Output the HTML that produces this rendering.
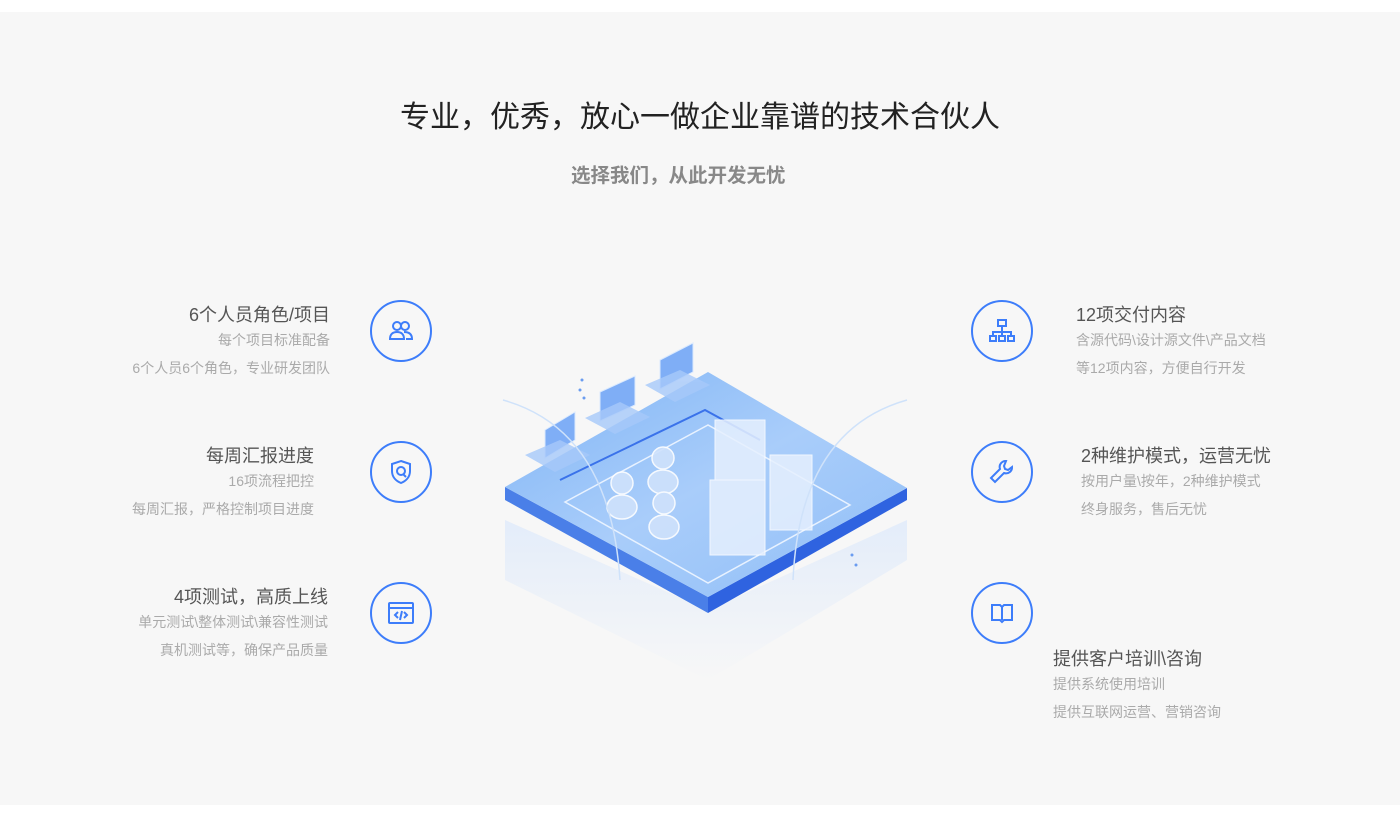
<!DOCTYPE html>
<html><head><meta charset="utf-8"><style>
*{margin:0;padding:0;box-sizing:border-box}
body{width:1400px;height:840px;background:#fff;font-family:"Liberation Sans","Noto Sans CJK SC",sans-serif;position:relative;overflow:hidden}
.bg{position:absolute;left:0;top:12px;width:1400px;height:793px;background:#f7f7f7}
.t{position:absolute;white-space:nowrap}
.h1{left:0;width:1400px;text-align:center;top:92px;font-size:30px;color:#222}
.h2{left:571px;top:159px;font-size:19.5px;color:#888;font-weight:bold}
.hd{font-size:18px;color:#555}
.sb{font-size:14px;color:#aaa}
.r{text-align:right}
.c{position:absolute;width:62px;height:62px;border:2px solid #3d7dfa;border-radius:50%}
.c svg{position:absolute;left:14px;top:14px}
</style></head><body>
<div class="bg"></div>
<div class="t h1">专业，优秀，放心一做企业靠谱的技术合伙人</div>
<div class="t h2">选择我们，从此开发无忧</div>

<div class="t hd r" style="right:1070px;top:301px">6个人员角色/项目</div>
<div class="t sb r" style="right:1070px;top:330px">每个项目标准配备</div>
<div class="t sb r" style="right:1070px;top:358px">6个人员6个角色，专业研发团队</div>

<div class="t hd r" style="right:1086px;top:442px">每周汇报进度</div>
<div class="t sb r" style="right:1086px;top:471px">16项流程把控</div>
<div class="t sb r" style="right:1086px;top:499px">每周汇报，严格控制项目进度</div>

<div class="t hd r" style="right:1072px;top:583px">4项测试，高质上线</div>
<div class="t sb r" style="right:1072px;top:612px">单元测试\整体测试\兼容性测试</div>
<div class="t sb r" style="right:1072px;top:640px">真机测试等，确保产品质量</div>

<div class="t hd" style="left:1076px;top:301px">12项交付内容</div>
<div class="t sb" style="left:1076px;top:330px">含源代码\设计源文件\产品文档</div>
<div class="t sb" style="left:1076px;top:358px">等12项内容，方便自行开发</div>

<div class="t hd" style="left:1081px;top:442px">2种维护模式，运营无忧</div>
<div class="t sb" style="left:1081px;top:471px">按用户量\按年，2种维护模式</div>
<div class="t sb" style="left:1081px;top:499px">终身服务，售后无忧</div>

<div class="t hd" style="left:1053px;top:645px">提供客户培训\咨询</div>
<div class="t sb" style="left:1053px;top:674px">提供系统使用培训</div>
<div class="t sb" style="left:1053px;top:702px">提供互联网运营、营销咨询</div>

<div class="c" style="left:370px;top:300px"><svg width="30" height="30" viewBox="0 0 30 30" fill="none" stroke="#3d7dfa" stroke-width="2"><circle cx="11" cy="10" r="4"/><circle cx="19" cy="10" r="4"/><path d="M4 23c0-5 3-7 7-7s7 2 7 7zM18 16c5 0 8 2 8 7h-6"/></svg></div>
<div class="c" style="left:370px;top:441px"><svg width="30" height="30" viewBox="0 0 30 30" fill="none" stroke="#3d7dfa" stroke-width="2"><path d="M15 4l9 3v7c0 6-4 10-9 12-5-2-9-6-9-12V7z"/><circle cx="15" cy="14" r="4"/><path d="M17 17l3 3"/></svg></div>
<div class="c" style="left:370px;top:582px"><svg width="30" height="30" viewBox="0 0 30 30" fill="none" stroke="#3d7dfa" stroke-width="2"><rect x="3" y="5" width="24" height="20" rx="1"/><path d="M3 10h24M12 14l-3 3 3 3M18 14l3 3-3 3M16 13l-2 9"/></svg></div>
<div class="c" style="left:971px;top:300px"><svg width="30" height="30" viewBox="0 0 30 30" fill="none" stroke="#3d7dfa" stroke-width="2"><rect x="11" y="4" width="8" height="6"/><rect x="3" y="20" width="6" height="5"/><rect x="12" y="20" width="6" height="5"/><rect x="21" y="20" width="6" height="5"/><path d="M15 10v10M6 20v-4h18v4"/></svg></div>
<div class="c" style="left:971px;top:441px"><svg width="30" height="30" viewBox="0 0 30 30" fill="none" stroke="#3d7dfa" stroke-width="2"><path d="M19 4a6 6 0 0 0-6 8L4 21l4 4 9-9a6 6 0 0 0 8-6l-4 3-3-1-1-3z"/></svg></div>
<div class="c" style="left:971px;top:582px"><svg width="30" height="30" viewBox="0 0 30 30" fill="none" stroke="#3d7dfa" stroke-width="2"><path d="M5 7h8l2 2 2-2h8v15h-8l-2 2-2-2H5zM15 9v13"/></svg></div>

<svg style="position:absolute;left:0;top:0" width="1400" height="840">
<defs>
<linearGradient id="top" x1="0" y1="0" x2="1" y2="1"><stop offset="0" stop-color="#7fb4f6"/><stop offset=".5" stop-color="#a9cdfa"/><stop offset="1" stop-color="#8fbdf7"/></linearGradient>
<linearGradient id="fade" x1="0" y1="0" x2="0" y2="1"><stop offset="0" stop-color="#dbe8fb"/><stop offset="1" stop-color="#f7f7f7"/></linearGradient>
</defs>
<polygon points="505,520 708,610 907,520 907,560 708,680 505,580" fill="url(#fade)" opacity=".7"/>
<polygon points="505,487 708,597 708,613 505,500" fill="#4a7fe8"/>
<polygon points="907,488 708,597 708,613 907,500" fill="#2f63e0"/>
<polygon points="505,487 708,372 907,488 708,597" fill="url(#top)"/>
<polygon points="565,502 708,425 850,505 708,583" fill="none" stroke="#e8f2ff" stroke-width="1.5"/>
<path d="M560,480 L705,410 L760,440" stroke="#3a72ea" stroke-width="2" fill="none"/>
<g fill="#7faef6" stroke="#dbeafe" stroke-width="1">
<polygon points="545,430 575,412 575,440 545,458"/>
<polygon points="600,392 635,376 635,405 600,421"/>
<polygon points="660,360 693,343 693,372 660,389"/>
</g>
<g fill="#a7c9fa" opacity=".8">
<polygon points="525,455 560,440 590,455 555,472"/>
<polygon points="585,418 620,402 650,417 615,434"/>
<polygon points="645,385 680,370 710,385 675,402"/>
</g>
<g fill="#e6f0fe" opacity=".85" stroke="#fff">
<rect x="715" y="420" width="50" height="120"/>
<rect x="710" y="480" width="55" height="75"/>
<rect x="770" y="455" width="42" height="75"/>
</g>
<g fill="#cfe2fc" stroke="#fff" stroke-width="1.5" opacity=".9">
<circle cx="622" cy="483" r="11"/><ellipse cx="622" cy="507" rx="15" ry="12"/>
<circle cx="663" cy="458" r="11"/><ellipse cx="663" cy="482" rx="15" ry="12"/>
<circle cx="664" cy="503" r="11"/><ellipse cx="664" cy="527" rx="15" ry="12"/>
</g>
<path d="M503,400 Q610,430 620,580" stroke="#cfe2fa" fill="none" stroke-width="1.5"/>
<path d="M907,400 Q800,430 793,580" stroke="#cfe2fa" fill="none" stroke-width="1.5"/>
<g fill="#6a9cf0"><circle cx="582" cy="380" r="1.5"/><circle cx="580" cy="390" r="1.5"/><circle cx="584" cy="398" r="1.5"/><circle cx="852" cy="555" r="1.5"/><circle cx="856" cy="565" r="1.5"/></g>
</svg>
</body></html>
